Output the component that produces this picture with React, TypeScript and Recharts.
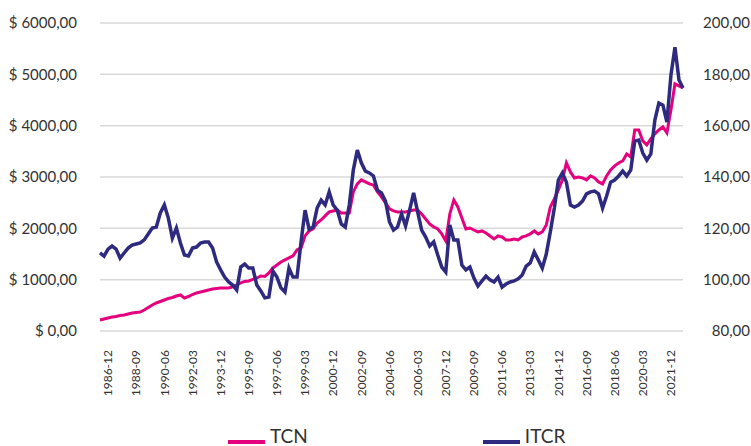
import { LineChart, Line, XAxis, YAxis, CartesianGrid, Legend } from 'recharts'

const FONT = 'Lato, "Open Sans", sans-serif'
const TEXT = '#333333'
const PINK = '#e5007e'
const NAVY = '#2d2a80'

// quarterly categories, 1986-06 .. 2022-09
const years = Array.from({ length: 37 }, (_, i) => 1986 + i)
const quarterMonths = ['03', '06', '09', '12']
const dates: string[] = years
  .flatMap(y => quarterMonths.map(m => `${y}-${m}`))
  .filter(d => d >= '1986-06' && d <= '2022-09')

const tickLabels = [
  '1986-12', '1988-09', '1990-06', '1992-03', '1993-12', '1995-09', '1997-06',
  '1999-03', '2000-12', '2002-09', '2004-06', '2006-03', '2007-12', '2009-09',
  '2011-06', '2013-03', '2014-12', '2016-09', '2018-06', '2020-03', '2021-12',
]

const leftTicks = [0, 1000, 2000, 3000, 4000, 5000, 6000]
const rightTicks = [80, 100, 120, 140, 160, 180, 200]

// TCN, left axis ($)
const tcn = [
  214, 234, 253, 273, 283, 302, 312, 331, 351, 361,
  370, 409, 458, 507, 546, 575, 604, 633, 653, 682,
  702, 643, 672, 711, 741, 760, 780, 799, 819, 828,
  838, 838, 838, 858, 897, 936, 965, 975, 1004, 1033,
  1072, 1062, 1130, 1228, 1286, 1345, 1384, 1423, 1462, 1579,
  1618, 1852, 1949, 1988, 2105, 2163, 2242, 2319, 2339, 2358,
  2300, 2300, 2300, 2709, 2865, 2943, 2904, 2865, 2845, 2709,
  2612, 2495, 2378, 2339, 2319, 2319, 2319, 2339, 2358, 2358,
  2280, 2183, 2085, 2027, 1988, 1891, 1754, 2280, 2553, 2417,
  2202, 1988, 2007, 1968, 1930, 1949, 1910, 1852, 1793, 1852,
  1832, 1774, 1774, 1793, 1774, 1832, 1852, 1891, 1949, 1891,
  1930, 2066, 2417, 2573, 2748, 2943, 3274, 3099, 2982, 3001,
  2982, 2943, 3021, 2982, 2904, 2865, 3021, 3138, 3216, 3274,
  3313, 3450, 3391, 3917, 3917, 3703, 3625, 3742, 3840, 3917,
  3976, 3859, 4307, 4814, 4775, 4736,
]

// ITCR, right axis (index)
const itcr = [
  110.4, 109.2, 111.9, 113.1, 111.9, 108.4, 110.4, 112.3, 113.5, 113.9,
  114.3, 115.5, 117.8, 120.1, 120.5, 126, 129.1, 124, 116.2, 120.1,
  114.3, 109.6, 109.2, 112.3, 112.7, 114.3, 114.7, 114.7, 112.3, 106.9,
  103.8, 101, 99.1, 97.9, 96, 104.9, 106.1, 104.5, 104.5, 97.9,
  95.6, 92.9, 93.2, 103.4, 101, 96.8, 95.2, 104.5, 101, 101,
  114.7, 127.1, 119.7, 120.5, 127.9, 131, 129.1, 134.2, 129.1, 127.1,
  121.7, 120.5, 129.1, 142.7, 150.5, 145.5, 142.3, 141.6, 140.4, 134.9,
  133.8, 130.6, 122.5, 119.3, 120.5, 125.6, 120.9, 127.1, 133.8, 126.4,
  119.3, 116.6, 113.1, 114.7, 109.6, 104.9, 103, 121.3, 115.5, 115.5,
  105.7, 103.8, 104.9, 100.6, 97.5, 99.5, 101.4, 99.9, 99.1, 101,
  97.1, 98.3, 99.1, 99.5, 100.3, 101.8, 105.3, 106.5, 110.8, 107.7,
  104.5, 110, 118.6, 127.9, 138.8, 141.6, 138, 129.1, 128.3, 129.1,
  130.6, 133.4, 134.2, 134.5, 133.4, 127.9, 132.6, 138, 138.8, 140.4,
  142.3, 140.4, 142.7, 154, 154.4, 149.3, 146.6, 149, 162.2, 168.8,
  168, 161.4, 179.7, 190.6, 177.8, 174.7,
]

const series = [
  { key: 'tcn', name: 'TCN', color: PINK },
  { key: 'itcr', name: 'ITCR', color: NAVY },
]

const data = dates.map((date, i) => ({ date, tcn: tcn[i], itcr: itcr[i] }))
const labelSet = new Set(tickLabels)

function DateTick({ x, y, payload }: any) {
  if (!labelSet.has(payload.value)) return null
  return (
    <text
      x={x}
      y={y}
      transform={`rotate(-90 ${x} ${y})`}
      textAnchor="end"
      dy="0.35em"
      fill={TEXT}
      fontSize={12}
      fontFamily={FONT}
    >
      {payload.value}
    </text>
  )
}

// right axis labels are right-aligned against the image edge
function RightTick({ x, y, payload }: any) {
  return (
    <text x={x + 67} y={y} dy="0.35em" textAnchor="end" fill={TEXT} fontSize={15} fontFamily={FONT}>
      {`${payload.value},00`}
    </text>
  )
}

function LegendContent() {
  return (
    <div style={{ display: 'flex', paddingLeft: 228, fontFamily: FONT, fontSize: 19, color: TEXT, lineHeight: '20px' }}>
      {series.map(s => (
        <div key={s.key} style={{ display: 'flex', alignItems: 'center', marginRight: 175 }}>
          <span style={{ display: 'inline-block', width: 37, height: 4, background: s.color, marginRight: 5, marginTop: 12 }} />
          <span>{s.name}</span>
        </div>
      ))}
    </div>
  )
}

export default function App() {
  return (
    <div style={{ position: 'absolute', left: 0, top: 0, width: 751, height: 446, background: '#fff' }}>
      <LineChart width={751} height={446} data={data} margin={{ top: 23, right: 8, bottom: 15, left: 8 }}>
        <CartesianGrid yAxisId="left" vertical={false} stroke="#d9d9d9" strokeWidth={1.5} />
        <XAxis
          dataKey="date"
          interval={0}
          height={100}
          axisLine={false}
          tickLine={false}
          tickSize={0}
          tickMargin={19}
          tick={<DateTick />}
        />
        <YAxis
          yAxisId="left"
          orientation="left"
          width={92}
          domain={[0, 6000]}
          ticks={leftTicks}
          axisLine={false}
          tickLine={false}
          tickSize={0}
          tickMargin={23}
          tick={{ fill: TEXT, fontSize: 15, fontFamily: FONT }}
          tickFormatter={(v: number) => `$ ${v},00`}
        />
        <YAxis
          yAxisId="right"
          orientation="right"
          width={60}
          domain={[80, 200]}
          ticks={rightTicks}
          axisLine={false}
          tickLine={false}
          tickSize={0}
          tickMargin={0}
          tick={<RightTick />}
        />
        <Legend
          verticalAlign="middle"
          align="center"
          layout="horizontal"
          wrapperStyle={{ top: 426, left: 0, width: 751 }}
          content={<LegendContent />}
        />
        <Line
          yAxisId="left"
          type="linear"
          dataKey="tcn"
          name="TCN"
          stroke={PINK}
          strokeWidth={3}
          dot={false}
          activeDot={false}
          isAnimationActive={false}
        />
        <Line
          yAxisId="right"
          type="linear"
          dataKey="itcr"
          name="ITCR"
          stroke={NAVY}
          strokeWidth={3.5}
          dot={false}
          activeDot={false}
          isAnimationActive={false}
        />
      </LineChart>
    </div>
  )
}
